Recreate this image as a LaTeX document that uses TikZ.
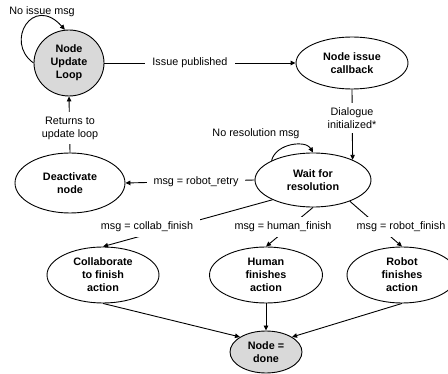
\documentclass[tikz,border=0pt]{standalone}
\usepackage{fontspec}
\setmainfont{Liberation Sans}
\usetikzlibrary{shapes.geometric,arrows.meta}
\definecolor{nodegray}{HTML}{D9D9D9}
\tikzset{
  st/.style={ellipse,draw,line width=0.9pt,inner sep=0pt,align=center,font=\fontsize{10.8}{13}\selectfont\bfseries},
  lbl/.style={fill=white,inner xsep=7pt,inner ysep=4.5pt,align=center,font=\fontsize{10.8}{13}\selectfont},
  con/.style={line width=0.9pt},
  arr/.style={con,-{Triangle[length=5pt,width=4.5pt]}}
}
\begin{document}
\begin{tikzpicture}[x=1pt,y=-1pt]
\clip (0,0) rectangle (448,374);
\useasboundingbox (0,0) rectangle (448,374);
% states
\node[st,fill=nodegray,minimum width=70pt,minimum height=66pt] (upd) at (69,63) {Node\\Update\\Loop};
\node[st,minimum width=112pt,minimum height=52pt] (cb) at (352,63) {Node issue\\callback};
\node[st,minimum width=110pt,minimum height=60pt] (deact) at (70,183) {Deactivate\\node};
\node[st,minimum width=116pt,minimum height=54pt] (wait) at (313,180) {Wait for\\resolution};
\node[st,minimum width=112pt,minimum height=56pt] (collab) at (103,275) {Collaborate\\to finish\\action};
\node[st,minimum width=113pt,minimum height=56pt] (human) at (266,275) {Human\\finishes\\action};
\node[st,minimum width=110pt,minimum height=56pt] (robot) at (402,275) {Robot\\finishes\\action};
\node[st,fill=nodegray,minimum width=72pt,minimum height=42pt] (done) at (266,352) {Node =\\done};
% connectors
\draw[arr] (upd.180) .. controls (4,42) and (33,-6) .. (upd.97);
\node[lbl,fill=none] (l1) at (42,12) {No issue msg};
\draw[arr] (upd.east) -- (cb.west);
\node[lbl] (l2) at (190,63) {Issue published};
\draw[arr] (cb.south) -- (wait.27);
\node[lbl] (l3) at (352,118) {Dialogue\\initialized*};
\draw[arr] (deact.north) -- (upd.south);
\node[lbl] (l4) at (70,128) {Returns to\\update loop};
\draw[arr] (wait.155) .. controls (276,143) and (306,140) .. (wait.90);
\node[lbl,fill=none] (l5) at (256,134) {No resolution msg};
\draw[arr] (wait.west) -- (deact.east);
\node[lbl] (l6) at (196,182) {msg = robot\_retry};
\draw[arr] (wait.206) -- (collab.north);
\node[lbl] (l7) at (147,227) {msg = collab\_finish};
\draw[arr] (wait.south) -- (human.north);
\node[lbl] (l8) at (283,227) {msg = human\_finish};
\draw[arr] (wait.-30) -- (robot.north);
\node[lbl] (l9) at (401,227) {msg = robot\_finish};
\draw[arr] (collab.south) -- (done.150);
\draw[arr] (human.south) -- (done.north);
\draw[arr] (robot.south) -- (done.30);
\end{tikzpicture}
\end{document}
